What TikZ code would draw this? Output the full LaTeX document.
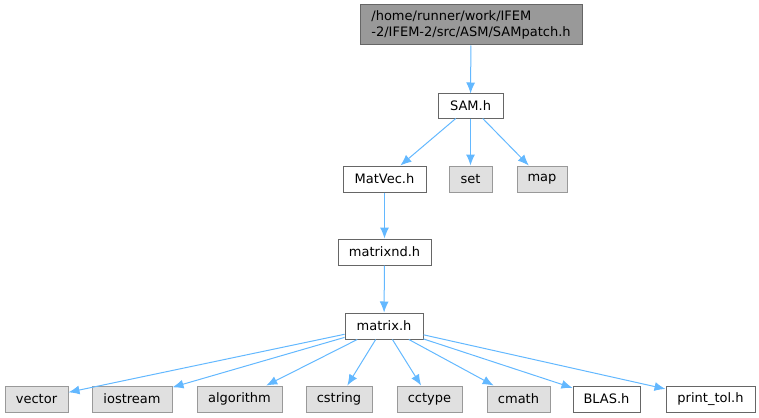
\documentclass[tikz,border=0pt]{standalone}
\usepackage{fontspec}
\setmainfont{DejaVu Sans}
\usetikzlibrary{arrows.meta}

\definecolor{edgeblue}{HTML}{63B8FF}
\definecolor{boxline}{HTML}{666666}
\definecolor{sysline}{HTML}{999999}
\definecolor{sysfill}{HTML}{E0E0E0}
\definecolor{topfill}{HTML}{999999}

\tikzset{
  hdr/.style={draw=boxline, fill=white, line width=1pt, inner sep=0pt,
    minimum height=26pt, font=\fontsize{13}{16}\selectfont},
  sys/.style={hdr, draw=sysline, fill=sysfill},
  dep/.style={draw=edgeblue, line width=1pt, -{Latex[length=11pt,width=9pt]}}
}

\begin{document}
\begin{tikzpicture}[x=1pt, y=1pt]
  \useasboundingbox (0,0) rectangle (759,-417);

  \node[hdr, fill=topfill, minimum width=222pt, minimum height=40pt, align=left]
    (samp) at (471,-25) {/home/runner/work/IFEM\\-2/IFEM-2/src/ASM/SAMpatch.h};

  \node[hdr, minimum width=65pt, minimum height=24pt] (sam) at (470.5,-106) {SAM.h};
  \node[hdr, minimum width=83pt] (matvec) at (384.5,-179) {MatVec.h};
  \node[sys, minimum width=43pt] (set) at (470.5,-179) {set};
  \node[sys, minimum width=50pt] (map) at (542,-179) {map};
  \node[hdr, minimum width=93pt] (matrixnd) at (384.5,-252) {matrixnd.h};
  \node[hdr, minimum width=78pt] (matrix) at (384,-326) {matrix.h};

  % bottom row
  \foreach \name/\x/\w/\kind/\txt in {vector/36.5/63/sys/vector,
      iostream/132/80/sys/iostream, algorithm/239.5/85/sys/algorithm,
      cstring/339/66/sys/cstring, cctype/429.5/65/sys/cctype,
      cmath/518.5/63/sys/cmath, blas/606.5/67/hdr/BLAS.h,
      printtol/710.5/89/hdr/print\_tol.h}{
    \node[\kind, minimum width=\w pt] (\name) at (\x,-399) {\txt};
  }

  \draw[dep] (samp) -- (sam);
  \draw[dep] (sam) -- (matvec);
  \draw[dep] (sam) -- (set);
  \draw[dep] (sam) -- (map);
  \draw[dep] (matvec) -- (matrixnd);
  \draw[dep] (matrixnd) -- (matrix);

  \foreach \name in {vector,iostream,algorithm,cstring,cctype,cmath,blas,printtol}{
    \draw[dep] (matrix) -- (\name);
  }
\end{tikzpicture}
\end{document}
